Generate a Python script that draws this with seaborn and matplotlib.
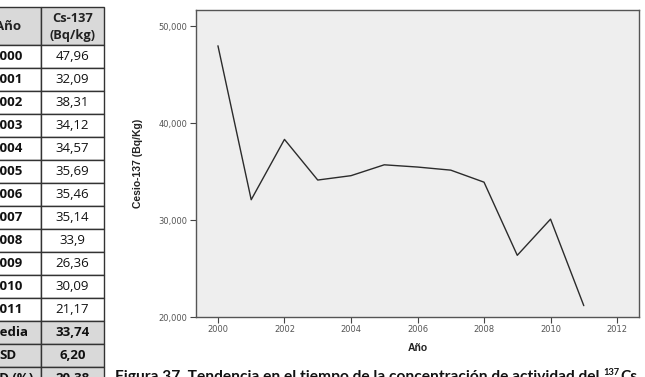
import numpy as np
import pandas as pd
import matplotlib
matplotlib.use("Agg")
import matplotlib.pyplot as plt
import matplotlib.patches as mpatches
from matplotlib.ticker import FuncFormatter
import seaborn as sns

# data
years = [2000, 2001, 2002, 2003, 2004, 2005, 2006, 2007, 2008, 2009, 2010, 2011]
cs137 = [47.96, 32.09, 38.31, 34.12, 34.57, 35.69, 35.46, 35.14, 33.9, 26.36, 30.09, 21.17]
value_labels = ["47,96", "32,09", "38,31", "34,12", "34,57", "35,69", "35,46",
                "35,14", "33,9", "26,36", "30,09", "21,17"]
stat_names = ["Media", "SD", "RSD (%)"]
stat_values = ["33,74", "6,20", "20,38"]
y_ticks = [20, 30, 40, 50]
x_ticks = [2000, 2002, 2004, 2006, 2008, 2010, 2012]

df = pd.DataFrame({"Año": years, "Cs137": cs137})

sns.set_style("white")
W, H = 645, 377
fig = plt.figure(figsize=(W / 100, H / 100), dpi=100)

def fx(px):
    return px / W

def fy(py):
    return 1 - py / H

# ---- chart ----
ax = fig.add_axes([fx(196), fy(317), fx(639 - 196), (317 - 10) / H])
ax.set_facecolor("#eeeeee")
sns.lineplot(data=df, x="Año", y="Cs137", ax=ax, color="#2b2b2b", lw=1.0)
ax.set_xlim(1999.34, 2012.66)
ax.set_ylim(20, 51.65)
ax.set_xticks(x_ticks)
ax.set_yticks(y_ticks)
ax.yaxis.set_major_formatter(FuncFormatter(lambda v, p: f"{v:,.3f}".replace(".", ",")))
ax.tick_params(axis="both", direction="out", length=4, width=0.8, color="#444444",
               labelsize=6, labelcolor="#555555", pad=2)
ax.tick_params(left=True, bottom=True)
for s in ax.spines.values():
    s.set_color("#555555")
    s.set_linewidth(1.0)
ax.set_xlabel("Año", fontsize=7.5, fontweight="bold", family="Liberation Sans",
              color="#222222", labelpad=6)
ax.set_ylabel("Cesio-137 (Bq/Kg)", fontsize=7.5, fontweight="bold", family="Liberation Sans",
              color="#222222", labelpad=11)

# ---- table on the left ----
tfont = "Open Sans"
row_h = 23
top = 7
header_h = 38
col_left, col_mid, col_right = -30, 41, 104
left_cx = 8
right_cx = 72.5

def cell(x0, y0, x1, y1, face):
    fig.patches.append(mpatches.Rectangle((fx(x0), fy(y1)), fx(x1 - x0), (y1 - y0) / H,
                                          transform=fig.transFigure, facecolor=face,
                                          edgecolor="#333333", lw=1.0))

cell(col_left, top, col_mid, top + header_h, "#d9d9d9")
cell(col_mid, top, col_right, top + header_h, "#d9d9d9")
fig.text(fx(left_cx), fy(top + header_h / 2), "Año", ha="center", va="center",
         fontsize=9.5, fontweight="bold", family=tfont, color="#222222")
fig.text(fx(right_cx), fy(top + 11), "Cs-137", ha="center", va="center",
         fontsize=9.3, fontweight="bold", family=tfont, color="#222222")
fig.text(fx(right_cx), fy(top + 28), "(Bq/kg)", ha="center", va="center",
         fontsize=9.3, fontweight="bold", family=tfont, color="#222222")

y0 = top + header_h
for yr, lab in zip(years, value_labels):
    cell(col_left, y0, col_mid, y0 + row_h, "white")
    cell(col_mid, y0, col_right, y0 + row_h, "white")
    fig.text(fx(left_cx), fy(y0 + row_h / 2), str(yr), ha="center", va="center",
             fontsize=9.5, fontweight="bold", family=tfont, color="#111111")
    fig.text(fx(right_cx), fy(y0 + row_h / 2), lab, ha="center", va="center",
             fontsize=9.5, family=tfont, color="#111111")
    y0 += row_h
for name, val in zip(stat_names, stat_values):
    cell(col_left, y0, col_mid, y0 + row_h, "#d9d9d9")
    cell(col_mid, y0, col_right, y0 + row_h, "#d9d9d9")
    fig.text(fx(left_cx), fy(y0 + row_h / 2), name, ha="center", va="center",
             fontsize=9.5, fontweight="bold", family=tfont, color="#111111")
    fig.text(fx(right_cx), fy(y0 + row_h / 2), val, ha="center", va="center",
             fontsize=9.5, fontweight="bold", family=tfont, color="#111111")
    y0 += row_h

# ---- caption ----
cfont = "Lato"
cap_text = "Figura 37. Tendencia en el tiempo de la concentración de actividad del "
cap = fig.text(fx(115), fy(381), cap_text, ha="left", va="baseline", fontsize=11,
               fontweight="bold", family=cfont, color="#111111")
fig.canvas.draw()
bb = cap.get_window_extent()
# fit caption width to the reference (ends just before the superscript at ~603 px)
cap.set_fontsize(11 * (603 - 115) / bb.width)
fig.canvas.draw()
bb = cap.get_window_extent()
fs = cap.get_fontsize()
sup = fig.text(bb.x1 / W, fy(375), "137", ha="left", va="baseline", fontsize=fs * 0.6,
               fontweight="bold", family=cfont, color="#111111")
fig.canvas.draw()
bb2 = sup.get_window_extent()
fig.text(bb2.x1 / W + 1 / W, fy(381), "Cs", ha="left", va="baseline", fontsize=fs,
         fontweight="bold", family=cfont, color="#111111")

fig.savefig("out.png", dpi=100)
